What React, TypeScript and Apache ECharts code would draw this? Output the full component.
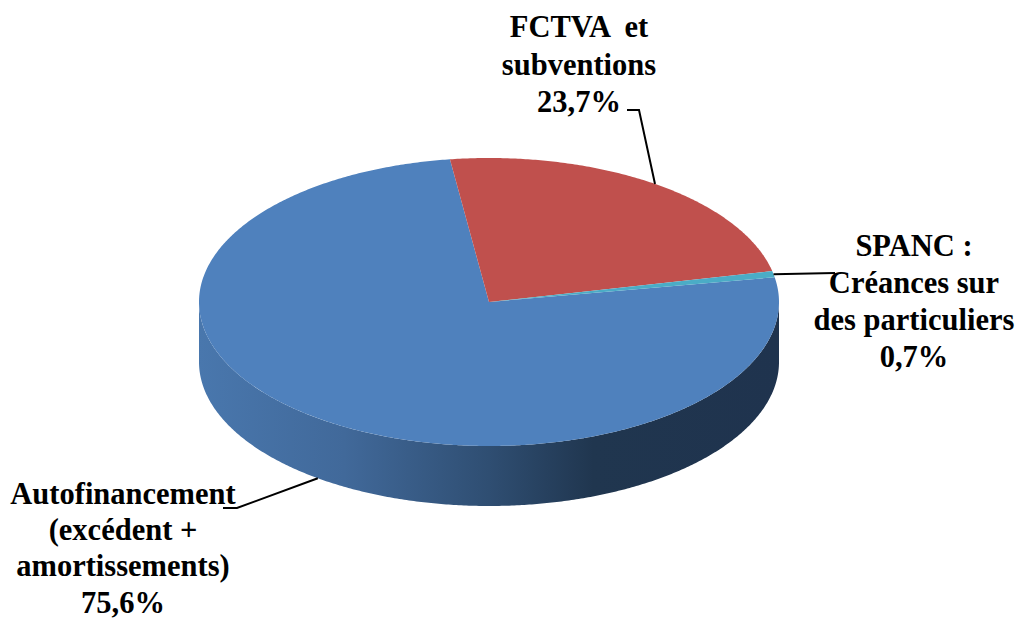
import React, { useEffect, useRef } from "react";
import * as echarts from "echarts";

const sliceNames = ["Autofinancement", "FCTVA et subventions", "SPANC"];
const sliceValues = [75.6, 23.7, 0.7];
const sliceColors = ["#4f81bd", "#c0504d", "#4bacc6"];
const sliceLabels = [
  "Autofinancement\n(excédent +\namortissements)\n75,6%",
  "FCTVA  et\nsubventions\n23,7%",
  "SPANC :\nCréances sur\ndes particuliers\n0,7%",
];

const W = 1017, H = 618;
const CX = 489, CY = 302, RX = 290, RY = 144, DEPTH = 60;
const START_DEG = 80.1;
// label layout: centre x, first line centre y, line height; leader bend points
const labelLayout = [
  { x: 123, y: 494, lh: 36.2, bend: [[237, 508], [223, 508]], onSide: true },
  { x: 579, y: 27, lh: 37.5, bend: [[639, 110], [627, 110]], onSide: false },
  { x: 914, y: 246, lh: 37, bend: [[835, 273]], onSide: false },
];

const total = sliceValues.reduce((a, b) => a + b, 0);
const pt = (deg: number, dy = 0) => {
  const r = (deg * Math.PI) / 180;
  return [CX + RX * Math.sin(r), CY - RY * Math.cos(r) + dy];
};
const arcPts = (a: number, b: number, dy = 0) => {
  const n = Math.max(2, Math.ceil(Math.abs(b - a) * 2));
  const out: number[][] = [];
  for (let i = 0; i <= n; i++) out.push(pt(a + ((b - a) * i) / n, dy));
  return out;
};

const sideFill = new echarts.graphic.LinearGradient(0, 0, 1, 0, [
  { offset: 0, color: "#4977ad" },
  { offset: 0.25, color: "#41699a" },
  { offset: 0.5, color: "#2f4e72" },
  { offset: 0.68, color: "#20364f" },
  { offset: 1, color: "#1f334e" },
]);

function renderItem(params: any, api: any) {
  const i = params.dataIndex;
  const value = api.value(0);
  let before = 0;
  for (let k = 0; k < i; k++) before += sliceValues[k];
  const a = START_DEG + (before / total) * 360;
  const b = a + (value / total) * 360;
  const mid = (a + b) / 2;
  const children: any[] = [];

  // front wall: part of the slice on the near half of the ellipse
  const fa = Math.max(a, 90), fb = Math.min(b, 270);
  if (fb > fa) {
    children.push({
      type: "polygon",
      z2: 1,
      shape: { points: [...arcPts(fa, fb), ...arcPts(fb, fa, DEPTH)] },
      style: { fill: sideFill },
    });
  }
  // top face
  children.push({
    type: "polygon",
    z2: 2,
    shape: { points: [[CX, CY], ...arcPts(a, b)] },
    style: { fill: api.visual("color") },
  });
  // leader line
  const lay = labelLayout[i];
  children.push({
    type: "polyline",
    z2: 5,
    shape: { points: [pt(mid, lay.onSide ? DEPTH : 0), ...lay.bend] },
    style: { fill: "none", stroke: "#000", lineWidth: 2 },
  });
  // label
  sliceLabels[i].split("\n").forEach((line, j) => {
    children.push({
      type: "text",
      z2: 6,
      style: {
        text: line,
        x: lay.x,
        y: lay.y + j * lay.lh,
        align: "center",
        verticalAlign: "middle",
        font: 'bold 30.5px "Liberation Serif"',
        fill: "#000",
      },
    });
  });
  return { type: "group", children };
}

export default function App() {
  const ref = useRef<HTMLDivElement>(null);
  useEffect(() => {
    document.body.style.margin = "0";
    document.body.style.background = "#fff";
    const chart = echarts.init(ref.current!, undefined, { renderer: "svg" });
    chart.setOption({
      animation: false,
      backgroundColor: "#ffffff",
      series: [
        {
          type: "custom",
          coordinateSystem: "none",
          silent: true,
          clip: false,
          renderItem,
          data: sliceValues.map((v, i) => ({
            name: sliceNames[i],
            value: [v],
            itemStyle: { color: sliceColors[i] },
          })),
        },
      ],
    });
    return () => chart.dispose();
  }, []);
  return <div ref={ref} style={{ width: W, height: H }} />;
}
